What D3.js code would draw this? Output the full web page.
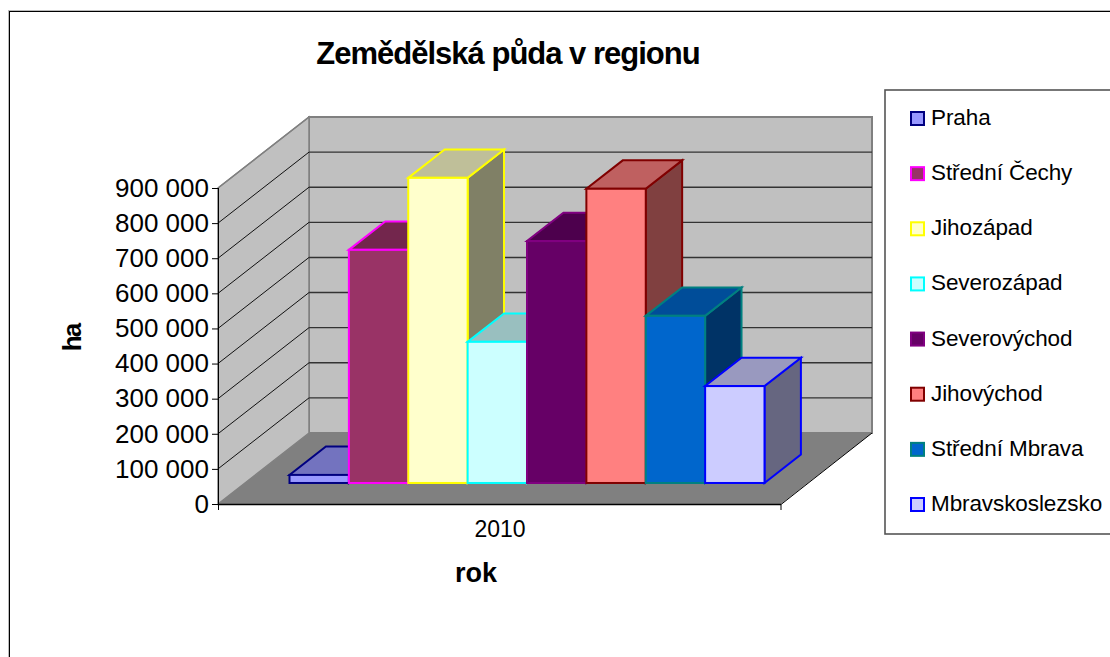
<!DOCTYPE html>
<html><head><meta charset="utf-8">
<script src="https://cdn.jsdelivr.net/npm/d3@7"></script>
<style>
html,body{margin:0;padding:0;background:#fff;overflow:hidden}
svg{display:block}
text{font-family:"Liberation Sans",Arial,sans-serif;fill:#000}
</style></head><body>
<svg id="c" width="1110" height="657"></svg>
<script>
const title = "Zemědělská půda v regionu";
const categories = ["2010"];
const seriesNames = ["Praha","Střední Čechy","Jihozápad","Severozápad","Severovýchod","Jihovýchod","Střední Morava","Moravskoslezsko"];
const legendLabels = ["Praha","Střední Čechy","Jihozápad","Severozápad","Severovýchod","Jihovýchod","Střední Mbrava","Mbravskoslezsko"];
const seriesValues = [23000,664000,869000,402000,689000,838000,476000,276000];
const fillColors = ["#9999ff","#993366","#ffffcc","#ccffff","#660066","#ff8080","#0066cc","#ccccff"];
const strokeColors = ["#000080","#ff00ff","#ffff00","#00ffff","#800080","#800000","#008080","#0000ff"];
const yTicks = [0,100000,200000,300000,400000,500000,600000,700000,800000,900000];
const yTitle = "ha", xTitle = "rok";

const svg = d3.select("#c");
const y = d3.scaleLinear().domain([0,900000]).range([504,188]);
const xFloor = d3.scaleBand().domain(categories).range([218,781]);
const DX = 91, DY = -71;
const p = (px,py,d)=>[px+DX*d,py+DY*d];
const poly = pts => pts.map(q=>q.join(",")).join(" ");
const fmt = v => d3.format(",")(v).replace(/,/g," ");

// chart frame
svg.append("rect").attr("x",8.5).attr("y",10.5).attr("width",1120).attr("height",680)
  .attr("fill","#fff").attr("stroke","#bbbbbb").attr("stroke-width",1);
svg.append("rect").attr("x",9.5).attr("y",11.5).attr("width",1120).attr("height",680)
  .attr("fill","#fff").attr("stroke","#000").attr("stroke-width",1);

const x0=xFloor.range()[0], x1=xFloor.range()[1], y0=y(0), yT=y(900000);
// back wall, side wall, floor
svg.append("polygon").attr("points",poly([p(x0,y0,1),p(x1,y0,1),p(x1,yT,1),p(x0,yT,1)]))
  .attr("fill","#c0c0c0").attr("stroke","#808080").attr("stroke-width",2);
svg.append("polygon").attr("points",poly([p(x0,y0,0),p(x0,y0,1),p(x0,yT,1),p(x0,yT,0)]))
  .attr("fill","#c0c0c0").attr("stroke","#808080").attr("stroke-width",1.5);
svg.append("polygon").attr("points",poly([p(x0,y0,0),p(x1,y0,0),p(x1,y0,1),p(x0,y0,1)]))
  .attr("fill","#808080");

// gridlines
yTicks.slice(1,-1).forEach(v=>{
  const a=p(x0,y(v),0), b=p(x0,y(v),1), c=p(x1,y(v),1);
  svg.append("line").attr("x1",a[0]).attr("y1",a[1]).attr("x2",b[0]).attr("y2",b[1]).attr("stroke","#111").attr("stroke-width",1);
  svg.append("line").attr("x1",b[0]).attr("y1",b[1]).attr("x2",c[0]).attr("y2",c[1]).attr("stroke","#333").attr("stroke-width",1.4);
});
svg.append("line").attr("x1",x0).attr("y1",yT).attr("x2",p(x0,yT,1)[0]).attr("y2",p(x0,yT,1)[1]).attr("stroke","#808080").attr("stroke-width",1.5);

// axes
const gy = svg.append("g").attr("transform",`translate(${x0},0)`)
  .call(d3.axisLeft(y).tickValues(yTicks).tickFormat(fmt).tickSize(6).tickPadding(3));
gy.select(".domain").attr("stroke","#000").attr("d",`M-6,${y0+.5}H0.5V${yT}`);
gy.selectAll("line").attr("stroke","#000");
gy.selectAll("text").attr("font-size",26).style("font-family",'"Liberation Sans"');

svg.append("line").attr("x1",x0).attr("x2",x1).attr("y1",y0+.5).attr("y2",y0+.5).attr("stroke","#000").attr("stroke-width",1.4);
svg.append("line").attr("x1",x0+.5).attr("x2",x0+.5).attr("y1",y0).attr("y2",y0+6).attr("stroke","#000");
svg.append("polyline").attr("points",poly([p(x1,y0,1),[x1,y0+.5],[x1,y0+6]])).attr("fill","none").attr("stroke","#000");

// bars
const barX = d3.scaleBand().domain(seriesNames).range([289.5,764.5]);
const barBase = 0.296, barDepth = 0.4;
const topShade = c => { const r=d3.rgb(c); return d3.rgb(r.r*.75,r.g*.75,r.b*.75).formatHex(); };
const sideShade = c => { const r=d3.rgb(c); return d3.rgb(r.r*.5,r.g*.5,r.b*.5).formatHex(); };
seriesNames.forEach((n,i)=>{
  const xa=barX(n), xb=xa+barX.bandwidth();
  const yb=y(0)+DY*barBase, yt=y(seriesValues[i])+DY*barBase;
  const dx=DX*barDepth, dy=DY*barDepth;
  const g=svg.append("g").attr("stroke",strokeColors[i]).attr("stroke-width",2).attr("stroke-linejoin","miter");
  g.append("polygon").attr("points",poly([[xb,yb],[xb+dx,yb+dy],[xb+dx,yt+dy],[xb,yt]])).attr("fill",sideShade(fillColors[i]));
  g.append("polygon").attr("points",poly([[xa,yt],[xb,yt],[xb+dx,yt+dy],[xa+dx,yt+dy]])).attr("fill",topShade(fillColors[i]));
  g.append("rect").attr("x",xa).attr("y",yt).attr("width",xb-xa).attr("height",yb-yt).attr("fill",fillColors[i]);
});

// texts
svg.append("text").attr("x",508).attr("y",64).attr("text-anchor","middle").attr("font-size",31).attr("font-weight","bold").attr("letter-spacing","-1").text(title);
svg.append("text").attr("x",500).attr("y",537).attr("text-anchor","middle").attr("font-size",23).text(categories[0]);
svg.append("text").attr("x",476).attr("y",582).attr("text-anchor","middle").attr("font-size",27).attr("font-weight","bold").text(xTitle);
svg.append("text").attr("transform","translate(81,338) rotate(-90)").attr("text-anchor","middle").attr("font-size",26).attr("font-weight","bold").attr("letter-spacing","-2").text(yTitle);

// legend
svg.append("rect").attr("x",885).attr("y",90).attr("width",240).attr("height",444).attr("fill","#fff").attr("stroke","#555").attr("stroke-width",1.6);
const legY = d3.scalePoint().domain(seriesNames).range([118.5,504.5]);
const lg = svg.selectAll(".lg").data(seriesNames).enter().append("g").attr("transform",d=>`translate(0,${legY(d)})`);
lg.append("rect").attr("x",911).attr("y",-6.5).attr("width",13).attr("height",13)
  .attr("fill",(d,i)=>fillColors[i]).attr("stroke",(d,i)=>strokeColors[i]).attr("stroke-width",2);
lg.append("text").attr("x",931).attr("y",6.5).attr("font-size",22.5).attr("letter-spacing","-0.1")
  .text((d,i)=>legendLabels[i]);
</script></body></html>
